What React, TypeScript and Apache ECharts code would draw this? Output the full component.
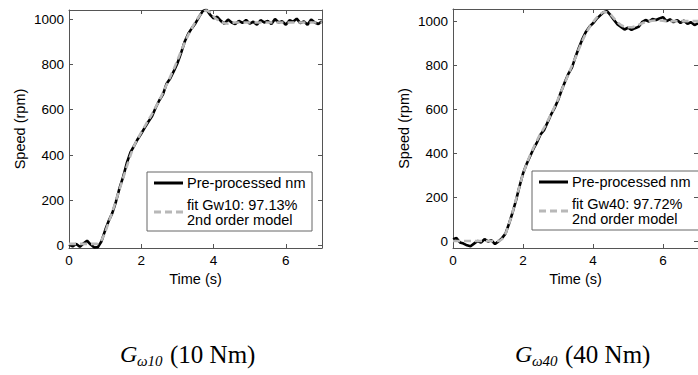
import React, { useEffect, useRef } from "react";
import * as echarts from "echarts";

// time axis (s)
const T = [
  0, 0.1, 0.2, 0.3, 0.4, 0.5, 0.6, 0.7, 0.8, 0.9,
  1.0, 1.1, 1.2, 1.3, 1.4, 1.5, 1.6, 1.7, 1.8, 1.9,
  2.0, 2.1, 2.2, 2.3, 2.4, 2.5, 2.6, 2.7, 2.8, 2.9,
  3.0, 3.1, 3.2, 3.3, 3.4, 3.5, 3.6, 3.7, 3.8, 3.9,
  4.0, 4.1, 4.2, 4.3, 4.4, 4.5, 4.6, 4.7, 4.8, 4.9,
  5.0, 5.1, 5.2, 5.3, 5.4, 5.5, 5.6, 5.7, 5.8, 5.9,
  6.0, 6.1, 6.2, 6.3, 6.4, 6.5, 6.6, 6.7, 6.8, 6.9,
  7.0,
];

// G_w10 (10 Nm): measured (pre-processed) speed, rpm
const measured10 = [
  5, -3, 8, -5, 10, 22, 5, -8, -6, 20,
  68, 110, 145, 195, 255, 305, 365, 412, 440, 470,
  495, 522, 548, 572, 610, 642, 668, 715, 738, 770,
  805, 850, 900, 935, 960, 982, 1010, 1035, 1042, 1020,
  1003, 1010, 992, 980, 998, 985, 978, 992, 983, 996,
  980, 988, 975, 995, 985, 992, 978, 1000, 985, 990,
  975, 995, 988, 1002, 982, 990, 975, 998, 985, 978,
  990,
];
// G_w10 fitted 2nd order model
const fit10 = [
  8, 8, 8, 8, 8, 8, 8, 8, 10, 25,
  60, 105, 150, 200, 250, 300, 350, 398, 440, 472,
  500, 528, 555, 582, 612, 642, 675, 710, 745, 780,
  818, 858, 895, 930, 960, 988, 1012, 1030, 1038, 1030,
  1012, 998, 988, 982, 980, 982, 985, 985, 985, 985,
  985, 985, 985, 985, 985, 985, 985, 985, 985, 985,
  985, 985, 985, 985, 985, 985, 985, 985, 985, 985,
  985,
];

// G_w40 (40 Nm): measured (pre-processed) speed, rpm
const measured40 = [
  10, 15, -5, -10, -18, -22, -10, 2, -5, 10,
  0, 5, -12, 0, 15, 35, 80, 130, 186, 250,
  308, 350, 385, 421, 450, 485, 505, 540, 575, 605,
  641, 685, 725, 762, 790, 838, 880, 920, 952, 975,
  990, 1010, 1025, 1040, 1045, 1027, 1005, 985, 974, 962,
  970, 960, 968, 974, 995, 1005, 998, 1010, 1005, 1012,
  1018, 1000, 1008, 995, 1005, 992, 1002, 988, 995, 982,
  990,
];
// G_w40 fitted 2nd order model
const fit40 = [
  2, 2, 2, 2, 2, 2, 2, 2, 2, 2,
  2, 2, 2, 2, 10, 35, 80, 132, 190, 250,
  305, 350, 390, 425, 458, 488, 515, 545, 577, 610,
  645, 685, 722, 760, 798, 835, 875, 912, 945, 972,
  995, 1015, 1030, 1040, 1040, 1030, 1012, 995, 982, 975,
  972, 972, 976, 983, 990, 996, 1000, 1002, 1003, 1003,
  1002, 1000, 1000, 1000, 1000, 1000, 1000, 1000, 1000, 1000,
  1000,
];

const X_TICKS = [0, 2, 4, 6];
const Y_TICKS = [0, 200, 400, 600, 800, 1000];
const LEG_MEASURED = "Pre-processed nm";
const LEG_FIT10 = "fit Gw10: 97.13%\n2nd order model";
const LEG_FIT40 = "fit Gw40: 97.72%\n2nd order model";

const SANS = "'Liberation Sans', Arial, sans-serif";
const SERIF = "'Liberation Serif', 'Times New Roman', serif";
const AXIS_COLOR = "#555";
const TEXT_COLOR = "#000";

const pair = (ys: number[]) => T.map((t, i) => [t, ys[i]]);
const plain = (v: number) => String(v);

function xAxes(gridIndex: number) {
  return [
    {
      type: "value",
      gridIndex,
      min: 0,
      max: 7,
      name: "Time (s)",
      nameLocation: "middle",
      nameGap: 18,
      nameTextStyle: { fontFamily: SANS, fontSize: 14.5, color: TEXT_COLOR },
      axisLine: { show: true, onZero: false, lineStyle: { color: AXIS_COLOR, width: 1 } },
      axisTick: {
        show: true,
        inside: true,
        length: 4,
        customValues: X_TICKS,
        lineStyle: { color: AXIS_COLOR },
      },
      axisLabel: {
        fontFamily: SANS,
        fontSize: 13.5,
        color: TEXT_COLOR,
        margin: 5,
        customValues: X_TICKS,
        formatter: plain,
      },
      splitLine: { show: false },
    },
    {
      type: "value",
      gridIndex,
      position: "top",
      min: 0,
      max: 7,
      axisLine: { show: true, onZero: false, lineStyle: { color: AXIS_COLOR, width: 1 } },
      axisTick: {
        show: true,
        inside: true,
        length: 4,
        customValues: X_TICKS,
        lineStyle: { color: AXIS_COLOR },
      },
      axisLabel: { show: false, customValues: X_TICKS },
      splitLine: { show: false },
    },
  ];
}

function yAxes(gridIndex: number, min: number, max: number) {
  return [
    {
      type: "value",
      gridIndex,
      min,
      max,
      name: "Speed (rpm)",
      nameLocation: "middle",
      nameGap: 42,
      nameTextStyle: { fontFamily: SANS, fontSize: 14.5, color: TEXT_COLOR },
      axisLine: { show: true, onZero: false, lineStyle: { color: AXIS_COLOR, width: 1 } },
      axisTick: {
        show: true,
        inside: true,
        length: 4,
        customValues: Y_TICKS,
        lineStyle: { color: AXIS_COLOR },
      },
      axisLabel: {
        fontFamily: SANS,
        fontSize: 13.5,
        color: TEXT_COLOR,
        margin: 5,
        customValues: Y_TICKS,
        formatter: plain,
      },
      splitLine: { show: false },
    },
    {
      type: "value",
      gridIndex,
      position: "right",
      min,
      max,
      axisLine: { show: true, onZero: false, lineStyle: { color: AXIS_COLOR, width: 1 } },
      axisTick: {
        show: true,
        inside: true,
        length: 4,
        customValues: Y_TICKS,
        lineStyle: { color: AXIS_COLOR },
      },
      axisLabel: { show: false, customValues: Y_TICKS },
      splitLine: { show: false },
    },
  ];
}

function seriesFor(idx: number, measured: number[], fit: number[]) {
  return [
    {
      type: "line",
      name: LEG_MEASURED,
      xAxisIndex: idx * 2,
      yAxisIndex: idx * 2,
      data: pair(measured),
      symbol: "none",
      lineStyle: { color: "#000", width: 2.6 },
      z: 2,
    },
    {
      type: "line",
      name: idx === 0 ? LEG_FIT10 : LEG_FIT40,
      xAxisIndex: idx * 2,
      yAxisIndex: idx * 2,
      data: pair(fit),
      symbol: "none",
      smooth: 0.3,
      lineStyle: { color: "#b8b8b8", width: 2.6, type: [7, 4] },
      z: 3,
    },
  ];
}

function legendBox(left: number, top: number, width: number, fitText: string) {
  return {
    type: "group",
    x: left,
    y: top,
    children: [
      {
        type: "rect",
        shape: { x: 0, y: 0, width, height: 59 },
        style: { fill: "#fff", stroke: "#666", lineWidth: 1 },
      },
      {
        type: "line",
        shape: { x1: 7, y1: 11, x2: 36, y2: 11 },
        style: { stroke: "#000", lineWidth: 3 },
      },
      {
        type: "text",
        x: 40,
        y: 11,
        style: {
          text: LEG_MEASURED,
          fontFamily: SANS,
          fontSize: 14.5,
          fill: TEXT_COLOR,
          verticalAlign: "middle",
        },
      },
      {
        type: "line",
        shape: { x1: 7, y1: 40, x2: 36, y2: 40 },
        style: { stroke: "#b8b8b8", lineWidth: 3, lineDash: [7, 4] },
      },
      {
        type: "text",
        x: 40,
        y: 25,
        style: {
          text: fitText,
          fontFamily: SANS,
          fontSize: 14.5,
          lineHeight: 15.5,
          fill: TEXT_COLOR,
          verticalAlign: "top",
        },
      },
    ],
  };
}

function caption(x: number, sub: string, rest: string) {
  return [
    {
      type: "text",
      x,
      y: 354,
      style: {
        text: "G",
        fontFamily: SERIF,
        fontStyle: "italic",
        fontSize: 24,
        fill: "#000",
        verticalAlign: "middle",
      },
    },
    {
      type: "text",
      x: x + 17,
      y: 361,
      style: {
        text: sub,
        fontFamily: SERIF,
        fontStyle: "italic",
        fontSize: 15,
        fill: "#000",
        verticalAlign: "middle",
      },
    },
    {
      type: "text",
      x: x + 50,
      y: 354,
      style: {
        text: rest,
        fontFamily: SERIF,
        fontSize: 25,
        fill: "#000",
        verticalAlign: "middle",
      },
    },
  ];
}

export default function App() {
  const ref = useRef<HTMLDivElement>(null);
  useEffect(() => {
    document.body.style.margin = "0";
    if (!ref.current) return;
    const chart = echarts.init(ref.current, null, { renderer: "svg" });
    chart.setOption({
      animation: false,
      backgroundColor: "#fff",
      grid: [
        { left: 69, top: 10, width: 253, height: 238, containLabel: false },
        { left: 453, top: 9, width: 253, height: 239, containLabel: false },
      ],
      xAxis: [...xAxes(0), ...xAxes(1)],
      yAxis: [...yAxes(0, -10, 1040), ...yAxes(1, -30, 1055)],
      series: [...seriesFor(0, measured10, fit10), ...seriesFor(1, measured40, fit40)],
      graphic: [
        legendBox(147, 172, 165, LEG_FIT10),
        legendBox(532, 171, 180, LEG_FIT40),
        ...caption(120, "ω10", "(10 Nm)"),
        ...caption(515, "ω40", "(40 Nm)"),
      ],
    });
    return () => chart.dispose();
  }, []);
  return <div ref={ref} style={{ width: 698, height: 375 }} />;
}
